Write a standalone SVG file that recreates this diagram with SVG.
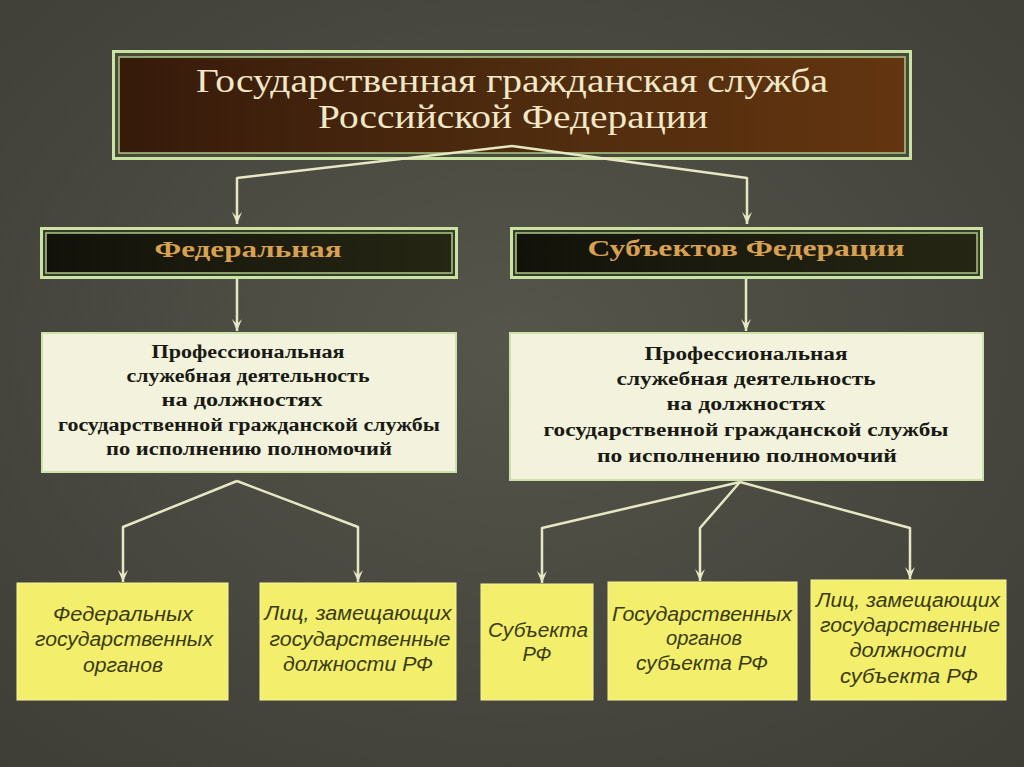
<svg xmlns="http://www.w3.org/2000/svg" width="1024" height="767" viewBox="0 0 1024 767">
<defs>
<radialGradient id="bg" cx="50%" cy="45%" r="75%">
<stop offset="0" stop-color="#56554b"/>
<stop offset="1" stop-color="#3e3d36"/>
</radialGradient>
<linearGradient id="brown" x1="0" y1="0" x2="1" y2="0">
<stop offset="0" stop-color="#361a0a"/>
<stop offset="0.5" stop-color="#4e2b0e"/>
<stop offset="1" stop-color="#633510"/>
</linearGradient>
<linearGradient id="dark" x1="0" y1="0" x2="1" y2="0">
<stop offset="0" stop-color="#12120a"/>
<stop offset="1" stop-color="#262614"/>
</linearGradient>
<marker id="arr" viewBox="0 0 12 10" refX="12" refY="5" markerWidth="12" markerHeight="10" markerUnits="userSpaceOnUse" orient="auto">
<path d="M0,0 L12,5 L0,10 L5,5 Z" fill="#e6e8c4"/>
</marker>
<style>
.ttl{font-family:"Liberation Serif",serif;font-size:33px;fill:#f2e8c8;text-anchor:middle}
.hd{font-family:"Liberation Serif",serif;font-weight:bold;font-size:24px;fill:#d8a152;text-anchor:middle}
.cr{font-family:"Liberation Serif",serif;font-weight:bold;font-size:18px;fill:#1a1a14;text-anchor:middle}
.yl{font-family:"Liberation Sans",sans-serif;font-style:italic;font-size:20px;fill:#3a3a12;text-anchor:middle}
.con{fill:none;stroke:#e6e8c4;stroke-width:2.5;stroke-linejoin:round}
.gOut{fill:none;stroke:#c9e3a2;stroke-width:3}
.gIn{fill:none;stroke:#a9c886;stroke-width:1.5}
.cream{fill:#f3f3dd;stroke:#cde2a8;stroke-width:2}
.yel{fill:#f3ef6c;stroke:#f7f59a;stroke-width:1}
</style>
</defs>
<rect width="1024" height="767" fill="url(#bg)"/>

<g id="title">
<rect x="112" y="50" width="800" height="110" fill="#4a4a3a"/>
<rect x="119" y="57" width="786" height="96" fill="url(#brown)"/>
<rect x="113.5" y="51.5" width="797" height="107" class="gOut"/>
<rect x="119" y="57" width="786" height="96" class="gIn"/>
<text class="ttl" x="512" y="92" textLength="632" lengthAdjust="spacingAndGlyphs">Государственная гражданская служба</text>
<text class="ttl" x="513" y="128" textLength="390" lengthAdjust="spacingAndGlyphs">Российской Федерации</text>
</g>

<g id="federal">
<rect x="40" y="227" width="418" height="52" fill="#3a3a28"/>
<rect x="46" y="233" width="406" height="40" fill="url(#dark)"/>
<rect x="41.5" y="228.5" width="415" height="49" class="gOut"/>
<rect x="46" y="233" width="406" height="40" class="gIn"/>
<text class="hd" x="248" y="257" textLength="187" lengthAdjust="spacingAndGlyphs">Федеральная</text>
</g>

<g id="subjects">
<rect x="510" y="227" width="473" height="52" fill="#3a3a28"/>
<rect x="516" y="233" width="461" height="40" fill="url(#dark)"/>
<rect x="511.5" y="228.5" width="470" height="49" class="gOut"/>
<rect x="516" y="233" width="461" height="40" class="gIn"/>
<text class="hd" x="746" y="256" textLength="317" lengthAdjust="spacingAndGlyphs">Субъектов Федерации</text>
</g>

<g id="prof-federal">
<rect x="42" y="333" width="414" height="139" class="cream"/>
<text class="cr" x="248" y="358" textLength="193" lengthAdjust="spacingAndGlyphs">Профессиональная</text>
<text class="cr" x="248" y="382" textLength="243" lengthAdjust="spacingAndGlyphs">служебная деятельность</text>
<text class="cr" x="242" y="406" textLength="161" lengthAdjust="spacingAndGlyphs">на должностях</text>
<text class="cr" x="249" y="431" textLength="382" lengthAdjust="spacingAndGlyphs">государственной гражданской службы</text>
<text class="cr" x="249" y="455" textLength="286" lengthAdjust="spacingAndGlyphs">по исполнению полномочий</text>
</g>

<g id="prof-subjects">
<rect x="510" y="333" width="473" height="147" class="cream"/>
<text class="cr" x="746" y="360" textLength="203" lengthAdjust="spacingAndGlyphs">Профессиональная</text>
<text class="cr" x="746" y="385" textLength="259" lengthAdjust="spacingAndGlyphs">служебная деятельность</text>
<text class="cr" x="746" y="410" textLength="159" lengthAdjust="spacingAndGlyphs">на должностях</text>
<text class="cr" x="746" y="436" textLength="405" lengthAdjust="spacingAndGlyphs">государственной гражданской службы</text>
<text class="cr" x="747" y="462" textLength="300" lengthAdjust="spacingAndGlyphs">по исполнению полномочий</text>
</g>

<g id="fed-organs">
<rect x="17" y="583" width="211" height="117" class="yel"/>
<text class="yl" x="123" y="621" textLength="140" lengthAdjust="spacingAndGlyphs">Федеральных</text>
<text class="yl" x="124" y="646" textLength="178" lengthAdjust="spacingAndGlyphs">государственных</text>
<text class="yl" x="123" y="672" textLength="80" lengthAdjust="spacingAndGlyphs">органов</text>
</g>

<g id="fed-persons">
<rect x="260" y="583" width="196" height="117" class="yel"/>
<text class="yl" x="358" y="620" textLength="187" lengthAdjust="spacingAndGlyphs">Лиц, замещающих</text>
<text class="yl" x="360" y="646" textLength="181" lengthAdjust="spacingAndGlyphs">государственные</text>
<text class="yl" x="358" y="671" textLength="150" lengthAdjust="spacingAndGlyphs">должности РФ</text>
</g>

<g id="subj-rf">
<rect x="481" y="584" width="112" height="116" class="yel"/>
<text class="yl" x="538" y="637" textLength="100" lengthAdjust="spacingAndGlyphs">Субъекта</text>
<text class="yl" x="537" y="661">РФ</text>
</g>

<g id="subj-organs">
<rect x="608" y="582" width="189" height="118" class="yel"/>
<text class="yl" x="702" y="621" textLength="180" lengthAdjust="spacingAndGlyphs">Государственных</text>
<text class="yl" x="704" y="645" textLength="76" lengthAdjust="spacingAndGlyphs">органов</text>
<text class="yl" x="702" y="670" textLength="132" lengthAdjust="spacingAndGlyphs">субъекта РФ</text>
</g>

<g id="subj-persons">
<rect x="811" y="580" width="195" height="120" class="yel"/>
<text class="yl" x="908" y="607" textLength="184" lengthAdjust="spacingAndGlyphs">Лиц, замещающих</text>
<text class="yl" x="910" y="632" textLength="180" lengthAdjust="spacingAndGlyphs">государственные</text>
<text class="yl" x="908" y="657" textLength="117" lengthAdjust="spacingAndGlyphs">должности</text>
<text class="yl" x="909" y="683" textLength="138" lengthAdjust="spacingAndGlyphs">субъекта РФ</text>
</g>

<g id="connectors">
<path class="con" d="M512,146 L237,178 L237,224" marker-end="url(#arr)"/>
<path class="con" d="M512,146 L747,178 L747,224" marker-end="url(#arr)"/>
<path class="con" d="M237,279 L237,331" marker-end="url(#arr)"/>
<path class="con" d="M746,279 L746,331" marker-end="url(#arr)"/>
<path class="con" d="M237,481 L123,527 L123,582" marker-end="url(#arr)"/>
<path class="con" d="M237,481 L358,527 L358,582" marker-end="url(#arr)"/>
<path class="con" d="M740,482 L542,528 L542,583" marker-end="url(#arr)"/>
<path class="con" d="M740,482 L700,528 L700,581" marker-end="url(#arr)"/>
<path class="con" d="M740,482 L910,528 L910,579" marker-end="url(#arr)"/>
</g>
</svg>
